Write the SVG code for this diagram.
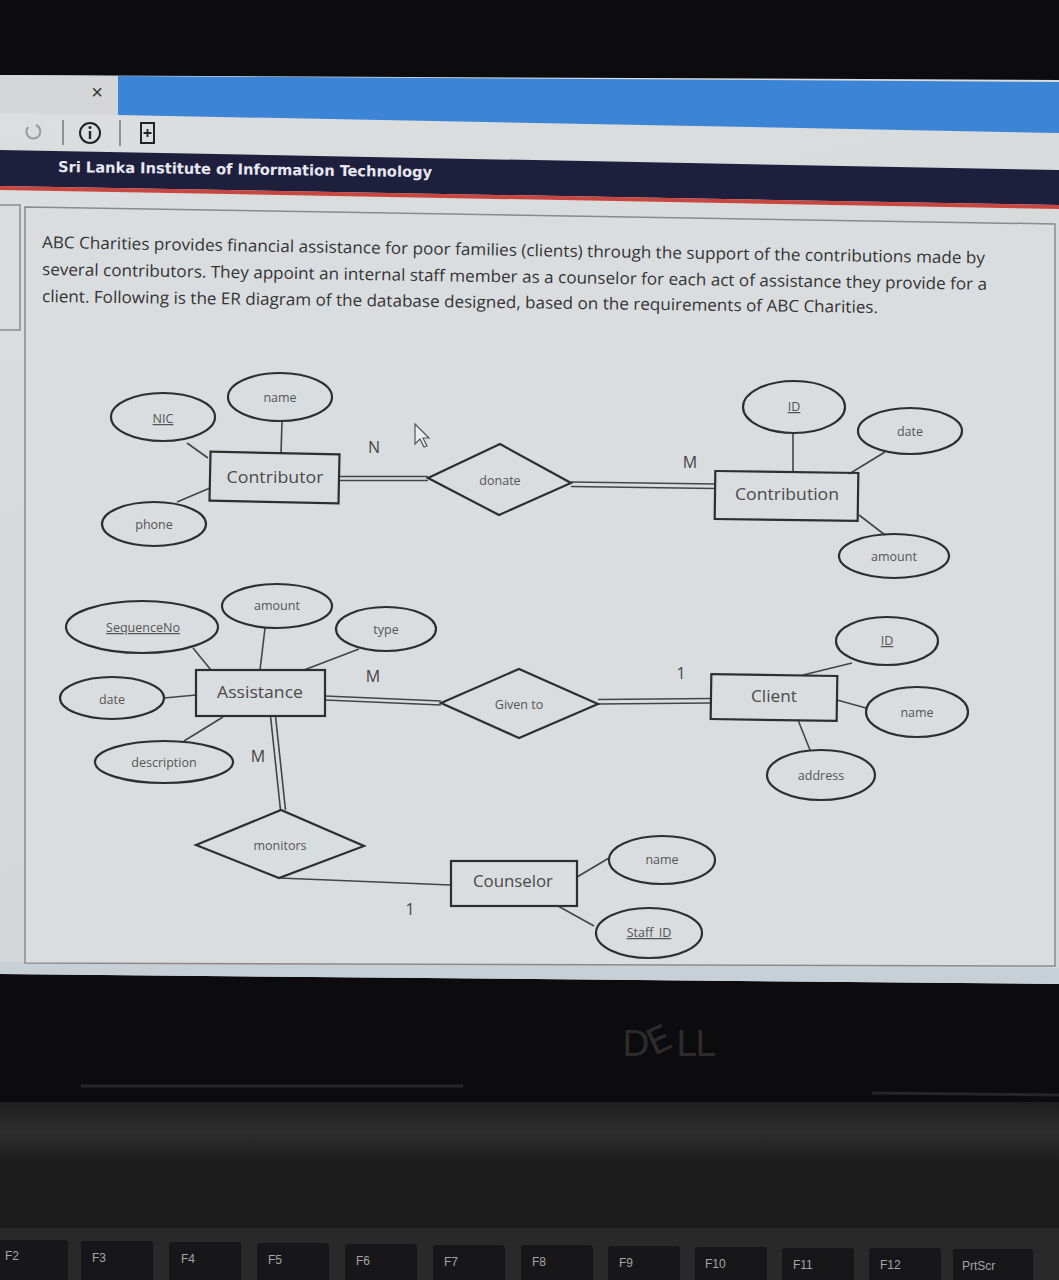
<svg xmlns="http://www.w3.org/2000/svg" width="1059" height="1280" viewBox="0 0 1059 1280">
<defs>
<linearGradient id="scr" x1="0" y1="0" x2="0.3" y2="1">
<stop offset="0" stop-color="#dcdedf"/>
<stop offset="1" stop-color="#d2d6d8"/>
</linearGradient>
<linearGradient id="hinge" x1="0" y1="0" x2="0" y2="1">
<stop offset="0" stop-color="#1e1e1f"/>
<stop offset="0.5" stop-color="#2e2e2f"/>
<stop offset="1" stop-color="#1f1f20"/>
</linearGradient>
</defs>
<style>
.ln{stroke:#444;stroke-width:1.6;fill:none}
.sh{fill:none;stroke:#2e2e2e;stroke-width:2.2}
.ent{font-family:"Open Sans",sans-serif;font-size:17px;fill:#4a4a4a;text-anchor:middle}
.att{font-family:"Open Sans",sans-serif;font-size:12.5px;fill:#555;text-anchor:middle}
.card{font-family:"Open Sans",sans-serif;font-size:16px;fill:#444;text-anchor:middle}
.u{text-decoration:underline}
.para{font-family:"Open Sans",sans-serif;font-size:16.5px;fill:#333}
.fk{font-family:"Liberation Sans",sans-serif;font-size:12px;fill:#a5a5a5}
.key{fill:#17171a}
</style>

<!-- background / photo frame -->
<rect x="0" y="0" width="1059" height="1280" fill="#0c0c0e"/>
<polygon points="0,75 1059,80 1059,984 0,974" fill="url(#scr)"/>
<polygon points="0,75 118,76 118,115 0,113" fill="#d4d6d7"/>
<polygon points="118,76 1059,82 1059,133 118,115" fill="#3b84d6"/>
<polygon points="0,150 1059,170 1059,205 0,186" fill="#1e1f3d"/>
<polygon points="0,186 1059,205 1059,209 0,190" fill="#c8463f"/>
<polygon points="0,962 1059,968 1059,984 0,974" fill="#c8d0d7"/>

<!-- browser chrome -->
<text x="97" y="99" font-family="Liberation Sans,sans-serif" font-size="20" fill="#333" text-anchor="middle">×</text>
<path d="M28,127 A7,7 0 1 0 36,125" fill="none" stroke="#999" stroke-width="2"/>
<line x1="63" y1="120" x2="63" y2="145" stroke="#777" stroke-width="1.5"/>
<line x1="120" y1="120" x2="120" y2="146" stroke="#777" stroke-width="1.5"/>
<circle cx="90" cy="133" r="10" fill="none" stroke="#222" stroke-width="2"/>
<line x1="90" y1="131" x2="90" y2="139" stroke="#222" stroke-width="2.4"/>
<circle cx="90" cy="127.5" r="1.5" fill="#222"/>
<rect x="141" y="123" width="13" height="20" fill="none" stroke="#222" stroke-width="2"/>
<path d="M147.5,129 v8 M143.5,133 h8" stroke="#222" stroke-width="1.8"/>
<text x="58" y="172" transform="rotate(0.8 58 172)" font-family="DejaVu Sans Condensed,DejaVu Sans,sans-serif" font-weight="bold" font-size="15" fill="#e6e7f0" textLength="374" lengthAdjust="spacingAndGlyphs">Sri Lanka Institute of Information Technology</text>

<!-- panels -->
<rect x="-5" y="205" width="25" height="125" fill="none" stroke="#8a8a8a" stroke-width="1.5"/>
<polygon points="25,207 1055,224 1055,966 25,963" fill="#dadddf" stroke="#8a8a8a" stroke-width="1.5"/>

<!-- paragraph -->
<text class="para" x="42" y="248" transform="rotate(0.95 42 248)" textLength="943" lengthAdjust="spacingAndGlyphs">ABC Charities provides financial assistance for poor families (clients) through the support of the contributions made by</text>
<text class="para" x="42" y="275" transform="rotate(0.9 42 275)" textLength="945" lengthAdjust="spacingAndGlyphs">several contributors. They appoint an internal staff member as a counselor for each act of assistance they provide for a</text>
<text class="para" x="42" y="302" transform="rotate(0.75 42 302)" textLength="836" lengthAdjust="spacingAndGlyphs">client. Following is the ER diagram of the database designed, based on the requirements of ABC Charities.</text>

<!-- connectors -->
<g id="connectors">
<line class="ln" x1="187" y1="443" x2="208" y2="458"/>
<line class="ln" x1="282" y1="421" x2="281" y2="454"/>
<line class="ln" x1="177" y1="502" x2="210" y2="488"/>
<line class="ln" x1="339" y1="476.5" x2="428" y2="476.5"/>
<line class="ln" x1="339" y1="480.5" x2="428" y2="480.5"/>
<line class="ln" x1="571" y1="482" x2="715" y2="484"/>
<line class="ln" x1="571" y1="486.5" x2="715" y2="488.5"/>
<line class="ln" x1="793" y1="433" x2="793" y2="473"/>
<line class="ln" x1="885" y1="452" x2="849" y2="474"/>
<line class="ln" x1="859" y1="515" x2="885" y2="535"/>
<line class="ln" x1="193" y1="648" x2="211" y2="670"/>
<line class="ln" x1="265" y1="628" x2="260" y2="670"/>
<line class="ln" x1="359" y1="649" x2="304" y2="670"/>
<line class="ln" x1="164" y1="698" x2="196" y2="695"/>
<line class="ln" x1="184" y1="741" x2="223" y2="717"/>
<line class="ln" x1="325" y1="696" x2="441" y2="701"/>
<line class="ln" x1="325" y1="700" x2="441" y2="705"/>
<line class="ln" x1="598" y1="699.5" x2="711" y2="698.5"/>
<line class="ln" x1="598" y1="704" x2="711" y2="703"/>
<line class="ln" x1="270.5" y1="716" x2="280.5" y2="810"/>
<line class="ln" x1="275.5" y1="716" x2="285.5" y2="810"/>
<line class="ln" x1="279" y1="878" x2="451" y2="885"/>
<line class="ln" x1="852" y1="663" x2="803" y2="675"/>
<line class="ln" x1="837" y1="700" x2="866" y2="708"/>
<line class="ln" x1="798" y1="720" x2="810" y2="750"/>
<line class="ln" x1="577" y1="877" x2="609" y2="858"/>
<line class="ln" x1="558" y1="906" x2="594" y2="926"/>
</g>

<!-- cardinalities -->
<text class="card" x="374" y="453">N</text>
<text class="card" x="690" y="468">M</text>
<text class="card" x="373" y="682">M</text>
<text class="card" x="681" y="679">1</text>
<text class="card" x="258" y="762">M</text>
<text class="card" x="410" y="915">1</text>

<!-- Contributor -->
<g id="contributor">
<rect class="sh" x="210" y="453" width="129" height="49" transform="rotate(1.2 275 478)"/>
<text class="ent" x="275" y="483" textLength="97" lengthAdjust="spacingAndGlyphs">Contributor</text>
</g>
<g id="contributor-name"><ellipse class="sh" cx="280" cy="397" rx="52" ry="24"/><text class="att" x="280" y="402">name</text></g>
<g id="contributor-nic"><ellipse class="sh" cx="163" cy="417" rx="52" ry="24"/><text class="att u" x="163" y="423">NIC</text></g>
<g id="contributor-phone"><ellipse class="sh" cx="154" cy="524" rx="52" ry="22"/><text class="att" x="154" y="529">phone</text></g>

<g id="donate">
<polygon class="sh" points="428,478 500,444 571,483 499,515"/>
<text class="att" x="500" y="485">donate</text>
</g>

<g id="contribution">
<rect class="sh" x="715" y="472" width="143" height="48" transform="rotate(0.8 787 496)"/>
<text class="ent" x="787" y="500" textLength="104" lengthAdjust="spacingAndGlyphs">Contribution</text>
</g>
<g id="contribution-id"><ellipse class="sh" cx="794" cy="407" rx="51" ry="26"/><text class="att u" x="794" y="411">ID</text></g>
<g id="contribution-date"><ellipse class="sh" cx="910" cy="431" rx="52" ry="23"/><text class="att" x="910" y="436">date</text></g>
<g id="contribution-amount"><ellipse class="sh" cx="894" cy="556" rx="55" ry="22"/><text class="att" x="894" y="561">amount</text></g>

<!-- cursor -->
<polygon points="415,424 415,444 420,439 424,447 427,446 423,438 429,438" fill="#ececec" stroke="#555" stroke-width="1.2"/>

<!-- Assistance -->
<g id="assistance">
<rect class="sh" x="196" y="670" width="129" height="46"/>
<text class="ent" x="260" y="698" textLength="86" lengthAdjust="spacingAndGlyphs">Assistance</text>
</g>
<g id="assistance-amount"><ellipse class="sh" cx="277" cy="606" rx="55" ry="22"/><text class="att" x="277" y="610">amount</text></g>
<g id="assistance-seq"><ellipse class="sh" cx="142" cy="627" rx="76" ry="26"/><text class="att u" x="143" y="632">SequenceNo</text></g>
<g id="assistance-type"><ellipse class="sh" cx="386" cy="629" rx="50" ry="22"/><text class="att" x="386" y="634">type</text></g>
<g id="assistance-date"><ellipse class="sh" cx="112" cy="698" rx="52" ry="21"/><text class="att" x="112" y="704">date</text></g>
<g id="assistance-desc"><ellipse class="sh" cx="164" cy="762" rx="69" ry="21"/><text class="att" x="164" y="767">description</text></g>

<g id="given-to">
<polygon class="sh" points="441,703 519,669 598,704 519,738"/>
<text class="att" x="519" y="709">Given to</text>
</g>

<g id="client">
<rect class="sh" x="711" y="675" width="126" height="45" transform="rotate(0.9 774 697)"/>
<text class="ent" x="774" y="702" textLength="46" lengthAdjust="spacingAndGlyphs">Client</text>
</g>
<g id="client-id"><ellipse class="sh" cx="887" cy="641" rx="51" ry="24"/><text class="att u" x="887" y="645">ID</text></g>
<g id="client-name"><ellipse class="sh" cx="917" cy="712" rx="51" ry="25"/><text class="att" x="917" y="717">name</text></g>
<g id="client-address"><ellipse class="sh" cx="821" cy="775" rx="54" ry="25"/><text class="att" x="821" y="780">address</text></g>

<g id="monitors">
<polygon class="sh" points="196,845 281,810 364,846 279,878"/>
<text class="att" x="280" y="850">monitors</text>
</g>

<g id="counselor">
<rect class="sh" x="451" y="861" width="126" height="45"/>
<text class="ent" x="513" y="887" textLength="80" lengthAdjust="spacingAndGlyphs">Counselor</text>
</g>
<g id="counselor-name"><ellipse class="sh" cx="662" cy="860" rx="53" ry="24"/><text class="att" x="662" y="864">name</text></g>
<g id="counselor-staffid"><ellipse class="sh" cx="649" cy="933" rx="53" ry="25"/><text class="att u" x="649" y="937">Staff_ID</text></g>

<!-- laptop body -->
<line x1="81" y1="1086" x2="463" y2="1086" stroke="#262627" stroke-width="3"/>
<line x1="872" y1="1093" x2="1059" y2="1095" stroke="#262627" stroke-width="3"/>
<text x="622 654 676 695" y="1056" font-family="DejaVu Sans,sans-serif" font-size="36" fill="#2e2b2b" rotate="0 -25 0 0">DELL</text>
<rect x="0" y="1102" width="1059" height="58" fill="url(#hinge)"/>
<rect x="0" y="1160" width="1059" height="68" fill="#1c1c1d"/>
<rect x="0" y="1228" width="1059" height="52" fill="#29292a"/>
<g id="keys">
<rect class="key" x="-10" y="1240" width="78" height="50" rx="3"/>
<rect class="key" x="81" y="1241" width="72" height="50" rx="3"/>
<rect class="key" x="169" y="1242" width="72" height="50" rx="3"/>
<rect class="key" x="257" y="1243" width="72" height="50" rx="3"/>
<rect class="key" x="345" y="1244" width="72" height="50" rx="3"/>
<rect class="key" x="433" y="1245" width="72" height="50" rx="3"/>
<rect class="key" x="521" y="1245" width="72" height="50" rx="3"/>
<rect class="key" x="608" y="1246" width="72" height="50" rx="3"/>
<rect class="key" x="695" y="1247" width="72" height="50" rx="3"/>
<rect class="key" x="782" y="1248" width="72" height="50" rx="3"/>
<rect class="key" x="869" y="1248" width="72" height="50" rx="3"/>
<rect class="key" x="953" y="1249" width="80" height="50" rx="3"/>
</g>
<text class="fk" x="5" y="1260">F2</text>
<text class="fk" x="92" y="1262">F3</text>
<text class="fk" x="181" y="1263">F4</text>
<text class="fk" x="268" y="1264">F5</text>
<text class="fk" x="356" y="1265">F6</text>
<text class="fk" x="444" y="1266">F7</text>
<text class="fk" x="532" y="1266">F8</text>
<text class="fk" x="619" y="1267">F9</text>
<text class="fk" x="705" y="1268">F10</text>
<text class="fk" x="793" y="1269">F11</text>
<text class="fk" x="880" y="1269">F12</text>
<text class="fk" x="962" y="1270">PrtScr</text>
</svg>
